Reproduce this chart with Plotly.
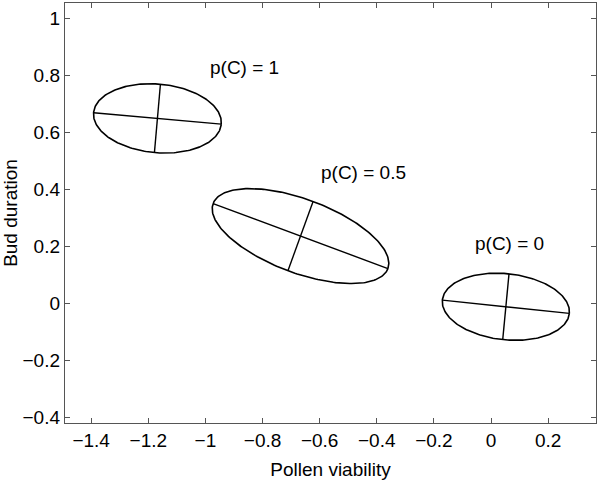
import numpy as np
import plotly.graph_objects as go

# Ellipse data (center, semi-major vector, semi-minor vector) in data units
groups = ["p(C) = 1", "p(C) = 0.5", "p(C) = 0"]
center_x = [-1.168, -0.667, 0.052]
center_y = [0.650, 0.237, -0.011]
major_dx = [0.2235, 0.306, 0.2223]
major_dy = [-0.020, -0.114, -0.0233]
minor_dx = [0.0105, 0.044, 0.011]
minor_dy = [0.120, 0.1216, 0.1155]

label_x = [-0.863, -0.446, 0.063]
label_y = [0.829, 0.460, 0.212]

x_ticks = [-1.4, -1.2, -1.0, -0.8, -0.6, -0.4, -0.2, 0.0, 0.2]
y_ticks = [-0.4, -0.2, 0.0, 0.2, 0.4, 0.6, 0.8, 1.0]

FONT = "Liberation Sans, Arial, Helvetica, sans-serif"
FS = 19

fig = go.Figure()
t = np.linspace(0, 2 * np.pi, 241)
for i in range(len(groups)):
    cx, cy = center_x[i], center_y[i]
    ax, ay = major_dx[i], major_dy[i]
    bx, by = minor_dx[i], minor_dy[i]
    ex = cx + ax * np.cos(t) + bx * np.sin(t)
    ey = cy + ay * np.cos(t) + by * np.sin(t)
    fig.add_trace(go.Scatter(x=ex, y=ey, mode="lines",
                             line=dict(color="black", width=1.6),
                             hoverinfo="skip", showlegend=False))
    fig.add_trace(go.Scatter(x=[cx - ax, cx + ax, None, cx - bx, cx + bx],
                             y=[cy - ay, cy + ay, None, cy - by, cy + by],
                             mode="lines", line=dict(color="black", width=1.4),
                             hoverinfo="skip", showlegend=False))
    fig.add_annotation(x=label_x[i], y=label_y[i], text=groups[i],
                       showarrow=False, font=dict(family=FONT, size=FS, color="black"),
                       xanchor="center", yanchor="middle")

axis_common = dict(showgrid=False, zeroline=False, showline=True, linecolor="#555",
                   linewidth=1.2, mirror="ticks", ticks="inside", ticklen=5,
                   tickcolor="#555", tickwidth=1,
                   tickfont=dict(family=FONT, size=FS, color="black"))

fig.update_xaxes(range=[-1.4916, 0.3676], tickvals=x_ticks,
                 title=dict(text="Pollen viability", font=dict(family=FONT, size=FS, color="black"),
                            standoff=12),
                 **axis_common)
fig.update_yaxes(range=[-0.419, 1.055], tickvals=y_ticks,
                 title=dict(text="Bud duration", font=dict(family=FONT, size=FS, color="black"),
                            standoff=6),
                 **axis_common)

fig.update_layout(width=600, height=480, margin=dict(l=65, r=4, t=3, b=57, autoexpand=False),
                  plot_bgcolor="white", paper_bgcolor="white")

fig.write_html("out.html", config={"displayModeBar": False, "staticPlot": True},
               post_script="document.body.style.margin='0';document.body.style.overflow='hidden';")
